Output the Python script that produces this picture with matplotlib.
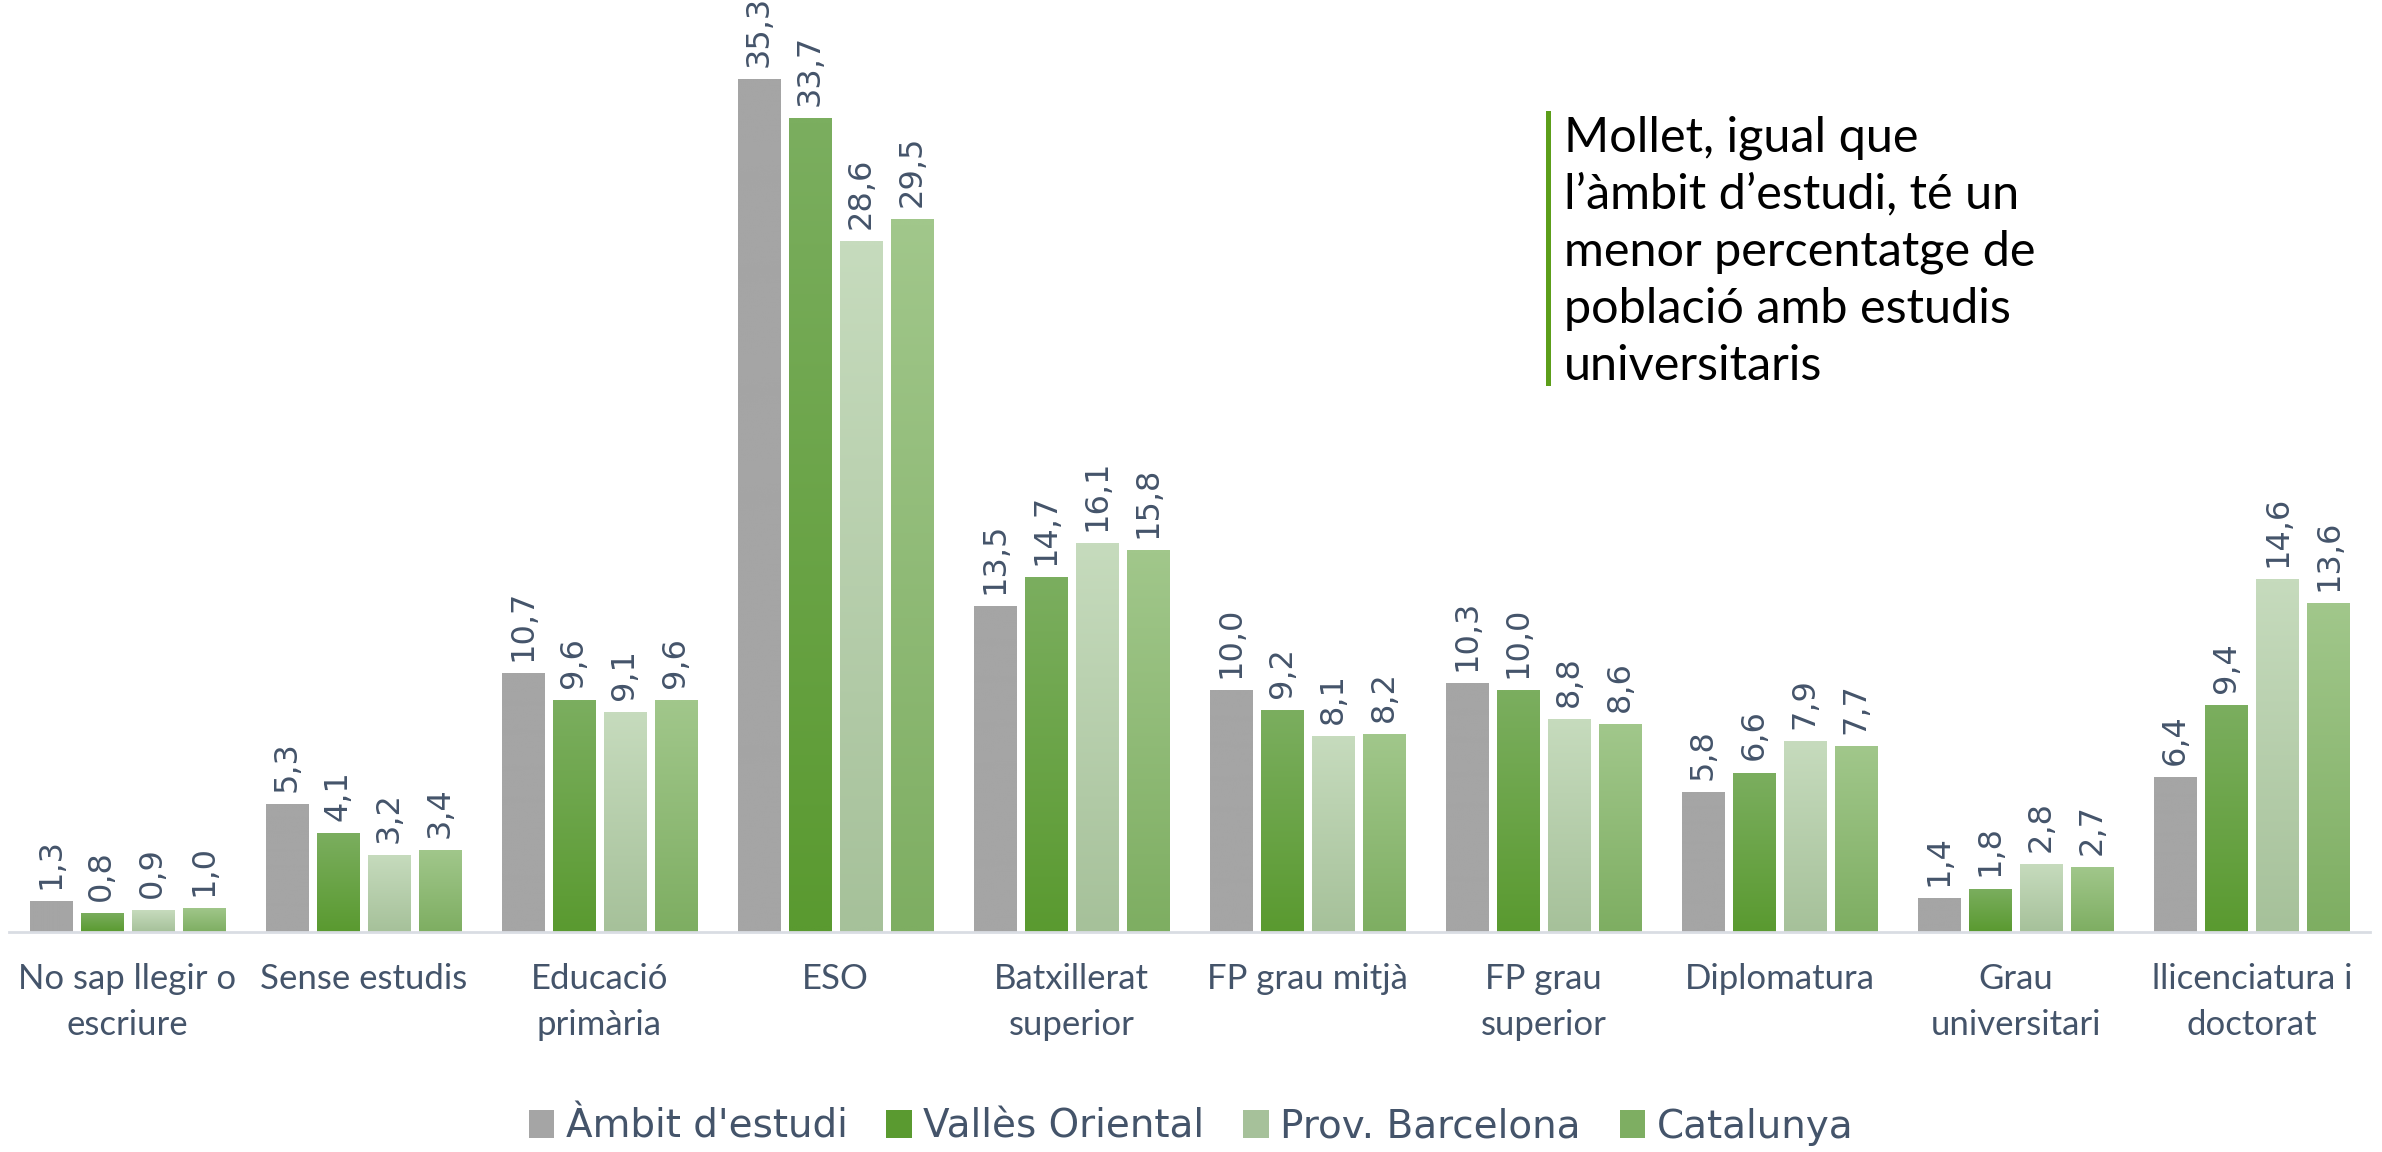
import numpy as np
import matplotlib
matplotlib.use('Agg')
import matplotlib.pyplot as plt
from matplotlib import font_manager
from matplotlib.colors import to_rgb

categories = ['No sap llegir o\nescriure', 'Sense estudis', 'Educació\nprimària', 'ESO',
              'Batxillerat\nsuperior', 'FP grau mitjà', 'FP grau\nsuperior', 'Diplomatura',
              'Grau\nuniversitari', 'llicenciatura i\ndoctorat']
series = ["Àmbit d'estudi", 'Vallès Oriental', 'Prov. Barcelona', 'Catalunya']
ambit = [1.3, 5.3, 10.7, 35.3, 13.5, 10.0, 10.3, 5.8, 1.4, 6.4]
valles = [0.8, 4.1, 9.6, 33.7, 14.7, 9.2, 10.0, 6.6, 1.8, 9.4]
prov = [0.9, 3.2, 9.1, 28.6, 16.1, 8.1, 8.8, 7.9, 2.8, 14.6]
catalunya = [1.0, 3.4, 9.6, 29.5, 15.8, 8.2, 8.6, 7.7, 2.7, 13.6]
values = [ambit, valles, prov, catalunya]

# (top colour, bottom colour) of each series' gradient
grads = [('#a5a5a5', '#a5a5a5'), ('#7bae5f', '#5a9a30'),
         ('#c6dbbd', '#a6c19a'), ('#a1c78b', '#7eae62')]

names = {f.name for f in font_manager.fontManager.ttflist}
narrow = 'Liberation Sans Narrow' if 'Liberation Sans Narrow' in names else 'DejaVu Sans'
txt = '#44546a'

fig = plt.figure(figsize=(23.82, 11.52), dpi=100)
ax = fig.add_axes([9 / 2382, 1 - 932 / 1152, 2361 / 2382, 932 / 1152])

x = np.arange(len(categories))
w = 0.178
step = 0.216
for k, vals in enumerate(values):
    top, bot = np.array(to_rgb(grads[k][0])), np.array(to_rgb(grads[k][1]))
    t = np.linspace(0, 1, 64)[:, None]
    img = (top * (1 - t) + bot * t)[:, None, :]
    pos = x + (k - 1.5) * step
    bars = ax.bar(pos, vals, width=w, color='none', edgecolor='none')
    for b, v in zip(bars, vals):
        x0 = b.get_x()
        im = ax.imshow(img, extent=(x0, x0 + w, 0, v), aspect='auto', origin='upper',
                       interpolation='bilinear', zorder=2)
        im.set_clip_path(b)
        ax.text(b.get_x() + w / 2, v + 0.5, f'{v:.1f}'.replace('.', ','), rotation=90,
                ha='center', va='bottom', fontsize=23, color=txt, family=narrow,
                clip_on=False)
    ax.bar(0, 0, color=grads[k][1], label=series[k])

ax.set_xlim(-0.5, 9.5)
ax.set_ylim(0, 38.57)
for s in ['top', 'right', 'left']:
    ax.spines[s].set_visible(False)
ax.spines['bottom'].set_color('#d9dde3')
ax.spines['bottom'].set_linewidth(2)
ax.set_yticks([])
ax.set_xticks(x)
ax.set_xticklabels(categories, fontsize=25, color=txt, family='Lato', linespacing=1.55)
ax.tick_params(axis='x', length=0, pad=22)

leg = fig.legend(loc='center', bbox_to_anchor=(0.5, 0.022), ncol=4, frameon=False,
                 prop={'family': narrow, 'size': 28}, handlelength=0.65, handleheight=0.7,
                 columnspacing=1.0, handletextpad=0.3)
for t_ in leg.get_texts():
    t_.set_color(txt)

# annotation with green bar on the left
fig.text(0.6565, 0.9, "Mollet, igual que\nl’àmbit d’estudi, té un\nmenor percentatge de\npoblació amb estudis\nuniversitaris",
         fontsize=35, family='Lato', color='black', va='top', ha='left', linespacing=1.36)
fig.add_artist(plt.Line2D([1547.5 / 2382] * 2, [1 - 383 / 1152, 1 - 113 / 1152], color='#5c9e1a', lw=3.6))

fig.savefig('out.png', dpi=100)
